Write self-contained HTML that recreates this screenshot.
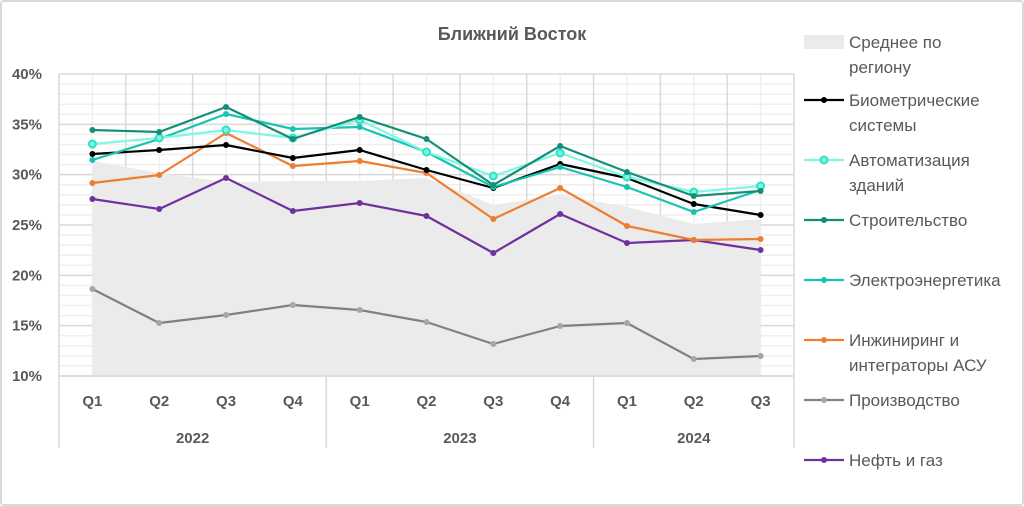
<!DOCTYPE html>
<html><head><meta charset="utf-8">
<style>
html,body{margin:0;padding:0;background:#fff;}
svg{display:block;font-family:"Liberation Sans","DejaVu Sans",sans-serif;}
</style></head>
<body>
<svg id="c" width="1024" height="506" viewBox="0 0 1024 506" xmlns="http://www.w3.org/2000/svg">
<rect x="1" y="1" width="1022" height="504" rx="3" fill="#fff" stroke="#d9d9d9" stroke-width="2"/>
<text x="512" y="40" text-anchor="middle" font-size="18" font-weight="bold" fill="#595959">Ближний Восток</text>
<g id="grid"></g>
<g id="series"></g>
<g id="axes" fill="#595959" font-size="15" font-weight="bold"></g>
<g id="legend" font-size="17" fill="#595959"></g>
</svg>
<script>
var NS="http://www.w3.org/2000/svg";
function el(p,t,a,txt){var e=document.createElementNS(NS,t);for(var k in a)e.setAttribute(k,a[k]);if(txt)e.textContent=txt;document.getElementById(p).appendChild(e);return e;}
var L=59,R=794,T=74,B=376,W=(R-L)/11;
function X(i){return L+W*(i+0.5);}
function Y(v){return B-(v-10)*(B-T)/30;}
// area
var avg=[161,173,182,181,181,178,205,195,207,224,219];
var d="M"+X(0)+","+B;for(var i=0;i<11;i++)d+=" L"+X(i)+","+avg[i];d+=" L"+X(10)+","+B+" Z";
// grid minor
for(var v=10;v<=40;v++){if(v%5)el("grid","line",{x1:L,x2:R,y1:Y(v),y2:Y(v),stroke:"#efefef","stroke-width":1.5});}
for(var i=0;i<11;i++){el("grid","line",{x1:X(i),x2:X(i),y1:T,y2:B,stroke:"#efefef","stroke-width":1.5});}
for(var v=10;v<=40;v+=5){el("grid","line",{x1:L,x2:R,y1:Y(v),y2:Y(v),stroke:"#d9d9d9","stroke-width":1.5});}
for(var i=0;i<=11;i++){el("grid","line",{x1:L+W*i,x2:L+W*i,y1:T,y2:B,stroke:"#d9d9d9","stroke-width":1.5});}
el("grid","path",{d:d,fill:"#ebebeb"});
el("grid","line",{x1:L,x2:R,y1:B,y2:B,stroke:"#d9d9d9","stroke-width":1.5});
var S=[
 {c:"#808080",m:"#a6a6a6",y:[289,323,315,305,310,322,344,326,323,359,356]},
 {c:"#7030a0",m:"#7030a0",y:[199,209,178,211,203,216,253,214,243,240,250]},
 {c:"#ed7d31",m:"#ed7d31",y:[183,175,133,166,161,173,219,188,226,240,239]},
 {c:"#000000",m:"#000",y:[154,150,145,158,150,170,188,164,178,204,215]},
 {c:"#17c3b2",m:"#17c3b2",y:[160,139,114,129,127,152,187,167,187,212,190]},
 {c:"#7ff7e4",m:"hollow",y:[144,138,130,138,120,152,176,153,177,192,186]},
 {c:"#148f77",m:"#148f77",y:[130,132,107,139,117,139,185,146,172,196,191]}
];
S.forEach(function(s){var p="";for(var i=0;i<11;i++)p+=(i?" L":"M")+X(i)+","+s.y[i];
 el("series","path",{d:p,fill:"none",stroke:s.c,"stroke-width":2.2,"stroke-linejoin":"round"});
 for(var i=0;i<11;i++){if(s.m=="hollow")el("series","circle",{cx:X(i),cy:s.y[i],r:3.5,fill:"#7ff7e4",stroke:"#2de0c8","stroke-width":2});
 else el("series","circle",{cx:X(i),cy:s.y[i],r:3,fill:s.m});}
});
// y labels
for(var v=10;v<=40;v+=5)el("axes","text",{x:42,y:Y(v)+5,"text-anchor":"end"},v+"%");
var q=["Q1","Q2","Q3","Q4","Q1","Q2","Q3","Q4","Q1","Q2","Q3"];
for(var i=0;i<11;i++)el("axes","text",{x:X(i),y:406,"text-anchor":"middle"},q[i]);
[[L,"2022"],[L+4*W,"2023"],[L+8*W,"2024"]].forEach(function(a,i){});
el("axes","text",{x:L+2*W,y:443,"text-anchor":"middle"},"2022");
el("axes","text",{x:L+6*W,y:443,"text-anchor":"middle"},"2023");
el("axes","text",{x:L+9.5*W,y:443,"text-anchor":"middle"},"2024");
[L,L+4*W,L+8*W,R].forEach(function(x){el("grid","line",{x1:x,x2:x,y1:B,y2:448,stroke:"#d9d9d9","stroke-width":1.5});});
// legend
el("legend","rect",{x:804,y:35,width:40,height:14,fill:"#ebebeb"});
el("legend","text",{x:849,y:48},"Среднее по");
el("legend","text",{x:849,y:73},"региону");
var lg=[["#000","#000",100,["Биометрические","системы"]],
["#7ff7e4","hollow",160,["Автоматизация","зданий"]],
["#148f77","#148f77",220,["Строительство"]],
["#17c3b2","#17c3b2",280,["Электроэнергетика"]],
["#ed7d31","#ed7d31",340,["Инжиниринг и","интеграторы АСУ"]],
["#808080","#a6a6a6",400,["Производство"]],
["#7030a0","#7030a0",460,["Нефть и газ"]]];
lg.forEach(function(g){el("legend","line",{x1:804,x2:844,y1:g[2],y2:g[2],stroke:g[0],"stroke-width":2.2});
 if(g[1]=="hollow")el("legend","circle",{cx:824,cy:g[2],r:3.5,fill:"#7ff7e4",stroke:"#2de0c8","stroke-width":2});
 else el("legend","circle",{cx:824,cy:g[2],r:3,fill:g[1]});
 g[3].forEach(function(t,k){el("legend","text",{x:849,y:g[2]+6+25*k},t);});
});
</script>
</body></html>
